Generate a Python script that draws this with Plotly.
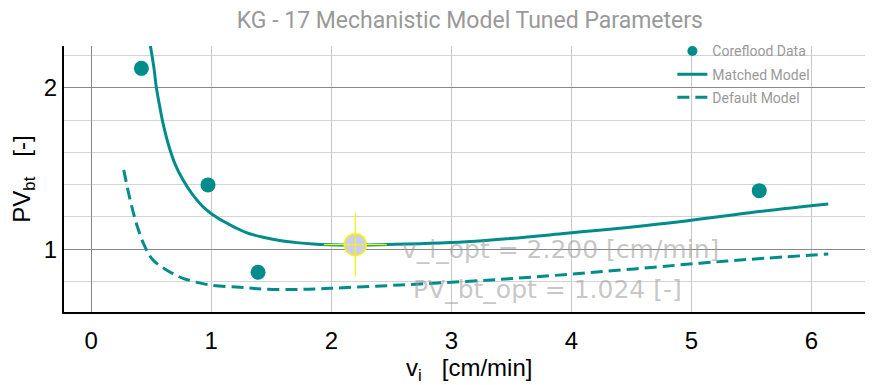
import plotly.graph_objects as go

# Coreflood data
vi_data = [0.418, 0.973, 1.39, 5.565]
pv_data = [2.173, 1.318, 0.906, 1.286]

# Matched model curve
matched_vi = [0.493, 0.521, 0.543, 0.571, 0.598, 0.640, 0.696, 0.765, 0.848, 0.946, 1.057,
              1.196, 1.293, 1.432, 1.571, 1.71, 1.848, 1.9875, 2.18, 2.404, 3.127, 3.96,
              4.793, 5.4875, 6.14]
matched_pv = [2.392, 2.189, 2.000, 1.844, 1.717, 1.576, 1.446, 1.346, 1.262, 1.192, 1.142,
              1.099, 1.074, 1.053, 1.038, 1.029, 1.023, 1.020, 1.019, 1.020, 1.033, 1.071,
              1.118, 1.170, 1.214]

# Default model curve
default_vi = [0.271, 0.321, 0.380, 0.452, 0.515, 0.627, 0.765, 0.9875, 1.2375, 1.429,
              1.7375, 1.9875, 2.571, 3.404, 4.2375, 5.07, 5.4875, 6.14]
default_pv = [1.405, 1.245, 1.110, 1.006, 0.955, 0.915, 0.883, 0.858, 0.850, 0.843,
              0.842, 0.846, 0.858, 0.879, 0.908, 0.942, 0.958, 0.980]

# Optimum
vi_opt = [2.2]
pv_opt = [1.02]

# Axis ticks
x_ticks = [0, 1, 2, 3, 4, 5, 6]
y_ticks = [1, 2]
y_minor = [0.8706, 1.1487, 1.3195, 1.5157, 1.7411, 2.2974]

TEAL = "#008c8a"
YELLOW = "#f5f500"

fig = go.Figure()
fig.add_trace(go.Scatter(x=vi_data, y=pv_data, mode="markers", name="Coreflood Data",
                         showlegend=False, marker=dict(color=TEAL, size=15)))
# legend-only entry for the data (smaller legend symbol)
fig.add_trace(go.Scatter(x=[None], y=[None], mode="markers", name="Coreflood Data",
                         legendgroup="a", marker=dict(color=TEAL, size=10)))
fig.add_trace(go.Scatter(x=matched_vi, y=matched_pv, mode="lines", name="Matched Model",
                         legendgroup="b", line=dict(color=TEAL, width=3, shape="spline")))
fig.add_trace(go.Scatter(x=default_vi, y=default_pv, mode="lines", name="Default Model",
                         legendgroup="c",
                         line=dict(color=TEAL, width=3, dash="12px,6px", shape="spline")))
fig.add_trace(go.Scatter(x=vi_opt, y=pv_opt, mode="markers", showlegend=False,
                         marker=dict(color="rgb(204,204,245)", size=22,
                                     line=dict(color=YELLOW, width=1.5))))
fig.add_trace(go.Scatter(x=vi_opt, y=pv_opt, mode="markers", showlegend=False,
                         marker=dict(symbol="cross-thin-open", size=45, color=YELLOW,
                                     line=dict(color=YELLOW, width=1.2))))

ann_font = dict(family="DejaVu Sans, sans-serif", size=25, color="rgba(150,150,150,0.55)")
fig.add_annotation(x=3.91, y=-0.001, yref="y", text="v_i_opt = 2.200 [cm/min]", showarrow=False,
                   font=ann_font, xanchor="center", yanchor="middle")
fig.add_annotation(x=3.80, y=-0.074, yref="y", text="PV_bt_opt = 1.024 [-]", showarrow=False,
                   font=ann_font, xanchor="center", yanchor="middle")

tickfont = dict(family="Liberation Sans Narrow, Arial Narrow, Liberation Sans, sans-serif", size=24, color="black")

# x-axis title as a paper annotation (keeps it inside the window)
fig.add_annotation(x=0.5, xref="paper", y=-0.216, yref="paper", text="v<sub>i</sub>   [cm/min]",
                   showarrow=False, font=tickfont, xanchor="center", yanchor="middle")

fig.update_layout(
    width=873, height=385,
    margin=dict(l=56, r=8, t=38, b=81, autoexpand=False),
    paper_bgcolor="white", plot_bgcolor="white",
    title=dict(text="KG - 17 Mechanistic Model Tuned Parameters", x=0.529, xanchor="center",
               xref="container", y=0.969, yref="container", yanchor="middle",
               font=dict(family="Roboto, sans-serif", size=23, color="#999999")),
    legend=dict(x=0.752, y=1.04, xanchor="left", yanchor="top", bgcolor="rgba(0,0,0,0)",
                font=dict(family="Roboto, sans-serif", size=14, color="#999999"),
                tracegroupgap=2, itemwidth=30),
    showlegend=True,
)
fig.update_xaxes(
    range=[-0.2267, 6.5125], tickvals=x_ticks, ticks="", tickfont=tickfont, automargin=False,
    ticklabelstandoff=6,
    showgrid=True, gridcolor="#c8c8c8", gridwidth=1,
    zeroline=True, zerolinecolor="#888888", zerolinewidth=1,
    showline=True, linecolor="black", linewidth=2,
)
fig.update_yaxes(
    type="log", range=[-0.1168, 0.3787], tickvals=y_ticks, ticktext=["1", "2"], ticks="",
    tickfont=tickfont, showgrid=True, gridcolor="#888888", gridwidth=1, automargin=False,
    minor=dict(tickvals=y_minor, showgrid=True, gridcolor="#d4d4d4", ticks=""),
    showline=True, linecolor="black", linewidth=2, zeroline=False,
    title=dict(text="PV<sub>bt</sub>   [-]", font=tickfont, standoff=10),
)

fig.write_html("out.html")
